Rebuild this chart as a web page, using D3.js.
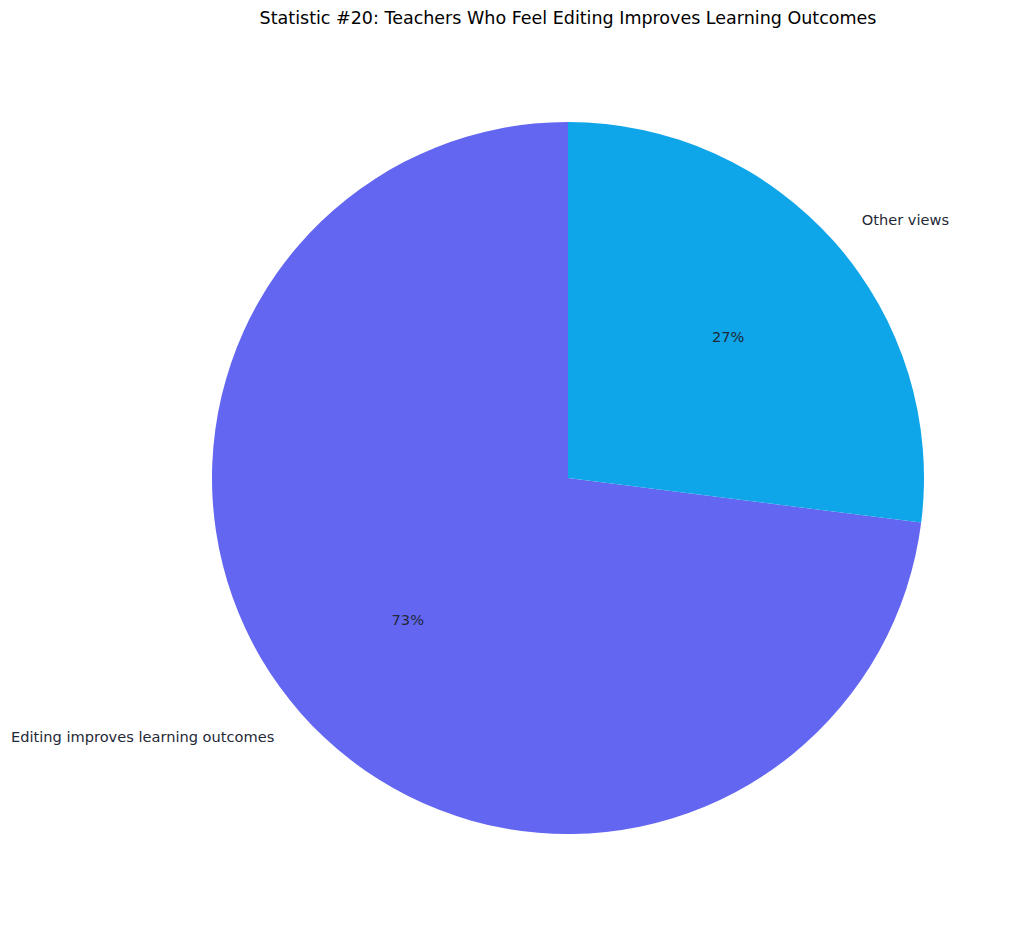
<!DOCTYPE html>
<html>
<head>
<meta charset="utf-8">
<script src="https://cdn.jsdelivr.net/npm/d3@7"></script>
<style>
  html, body { margin: 0; padding: 0; background: #fff; }
  svg { display: block; font-family: "DejaVu Sans", sans-serif; }
</style>
</head>
<body>
<svg id="chart" width="1024" height="934"></svg>
<script>
// chart data
const categories = ["Editing improves learning outcomes", "Other views"];
const values = [73, 27];
const colors = ["#6366F1", "#0EA5E9"];
const title = "Statistic #20: Teachers Who Feel Editing Improves Learning Outcomes";

const width = 1024, height = 934;
const cx = 568, cy = 478, radius = 356;

const svg = d3.select("#chart");

svg.append("text")
    .attr("x", cx)
    .attr("y", 18)
    .attr("text-anchor", "middle")
    .attr("dominant-baseline", "central")
    .attr("font-size", 17.5)
    .attr("fill", "#000")
    .text(title);

const data = categories.map((c, i) => ({ label: c, value: values[i], color: colors[i] }));

// matplotlib style: start at top, counterclockwise
const pie = d3.pie()
    .value(d => d.value)
    .sort(null)
    .startAngle(0)
    .endAngle(-2 * Math.PI);

const arcs = pie(data);
const arc = d3.arc().innerRadius(0).outerRadius(radius);

const g = svg.append("g").attr("transform", `translate(${cx},${cy})`);

g.selectAll("path.slice")
    .data(arcs)
    .join("path")
    .attr("class", "slice")
    .attr("d", arc)
    .attr("fill", d => d.data.color);

const total = d3.sum(values);
const midAngle = d => (d.startAngle + d.endAngle) / 2;
const pos = (d, k) => {
    const a = midAngle(d);
    return [Math.sin(a) * radius * k, -Math.cos(a) * radius * k];
};

// outer labels
g.selectAll("text.label")
    .data(arcs)
    .join("text")
    .attr("class", "label")
    .attr("x", d => pos(d, 1.1)[0])
    .attr("y", d => pos(d, 1.1)[1])
    .attr("text-anchor", d => pos(d, 1.1)[0] < 0 ? "end" : "start")
    .attr("dominant-baseline", "central")
    .attr("font-size", 14.6)
    .attr("fill", "#1f2937")
    .text(d => d.data.label);

// percentage labels
g.selectAll("text.pct")
    .data(arcs)
    .join("text")
    .attr("class", "pct")
    .attr("x", d => pos(d, 0.6)[0])
    .attr("y", d => pos(d, 0.6)[1])
    .attr("text-anchor", "middle")
    .attr("dominant-baseline", "central")
    .attr("font-size", 14.6)
    .attr("fill", "#1f2937")
    .text(d => Math.round(d.data.value / total * 100) + "%");
</script>
</body>
</html>
